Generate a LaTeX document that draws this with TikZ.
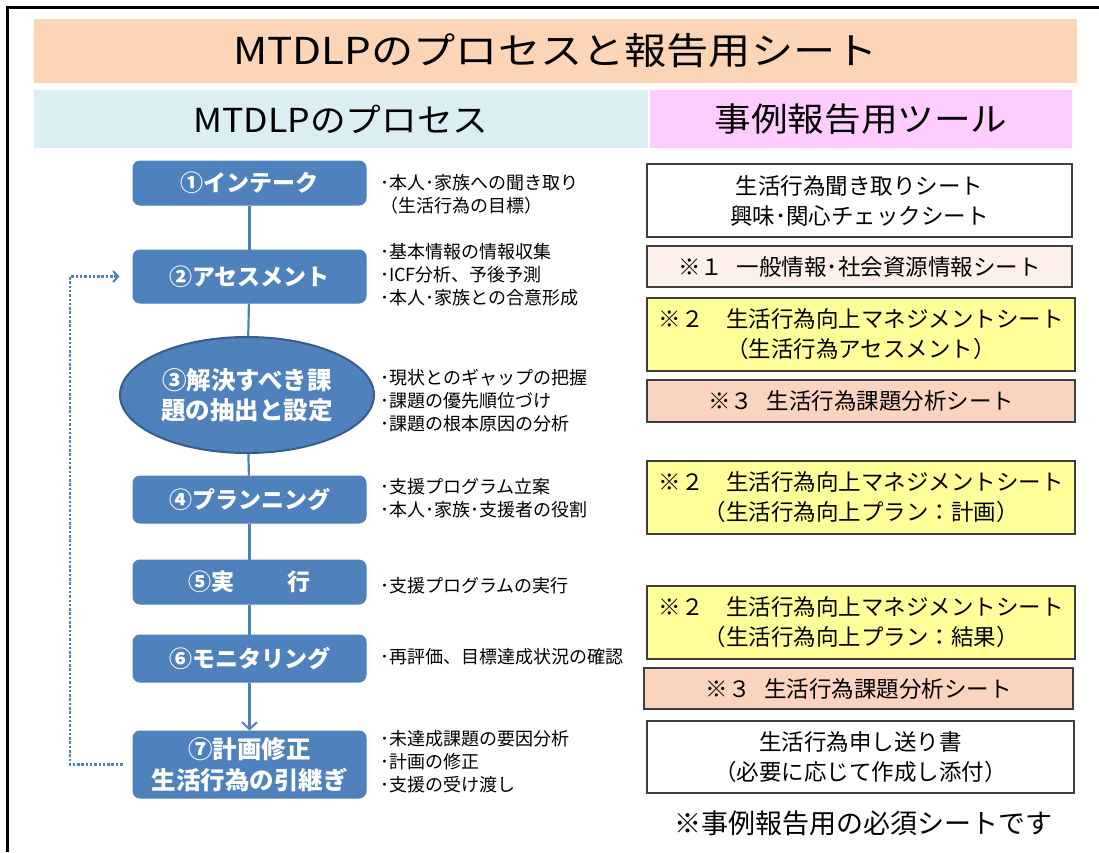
\documentclass[tikz,border=0pt]{standalone}
\usepackage{fontspec}
\setmainfont{Noto Sans CJK JP}
\usetikzlibrary{arrows.meta,shapes.geometric}
\definecolor{titlepeach}{HTML}{FBD5B5}
\definecolor{hdrblue}{HTML}{DAEEF3}
\definecolor{hdrpink}{HTML}{FFCCFF}
\definecolor{procblue}{HTML}{4F81BD}
\definecolor{ellborder}{HTML}{385D8A}
\definecolor{sheetborder}{HTML}{3F3F3F}
\definecolor{lightpeach}{HTML}{FDF0EA}
\definecolor{sheetyellow}{HTML}{FFFF99}
\definecolor{salmon}{HTML}{FBD4BF}
\tikzset{
  procbox/.style={rectangle, rounded corners=7pt, fill=procblue, draw=procblue, line width=1pt,
    minimum width=233pt, text=white, font=\fontsize{23}{30}\selectfont\bfseries, align=center, inner sep=0pt},
  procell/.style={ellipse, fill=procblue, draw=ellborder, line width=2pt, minimum width=254pt,
    minimum height=116pt, text=white, font=\fontsize{24.5}{30}\selectfont\bfseries, align=center, inner sep=0pt},
  note/.style={anchor=west, align=left, font=\fontsize{18}{23}\selectfont, inner sep=0pt},
  sheet/.style={rectangle, draw=sheetborder, line width=1.5pt, minimum width=425pt, align=center,
    font=\fontsize{22.5}{30}\selectfont, inner sep=0pt},
  conn/.style={draw=procblue, line width=2.2pt},
  fb/.style={draw=procblue, line width=2.5pt, dash pattern=on 2.5pt off 1.8pt},
}
\begin{document}
\begin{tikzpicture}[x=1pt,y=-1pt]
\useasboundingbox (0,0) rectangle (1099,852);
\fill[white] (0,0) rectangle (1099,852);
\draw[line width=3pt] (7,852) -- (7,7) -- (1099,7);

% headers
\node[fill=titlepeach, minimum width=1043pt, minimum height=64pt, inner sep=0pt,
  font=\fontsize{37}{40}\selectfont] (title) at (555.5,51) {\scalebox{1.14}[1]{MTDLPのプロセスと報告用シート}};
\node[fill=hdrblue, minimum width=614pt, minimum height=58pt, inner sep=0pt,
  font=\fontsize{33}{36}\selectfont] (hl) at (341,119) {\scalebox{1.08}[1]{MTDLPのプロセス}};
\node[fill=hdrpink, minimum width=422pt, minimum height=58pt, inner sep=0pt,
  font=\fontsize{33}{36}\selectfont] (hr) at (861,119) {\scalebox{1.11}[1]{事例報告用ツール}};

% process
\node[procbox, minimum height=44pt] (n1) at (249.5,183) {①インテーク};
\node[procbox, minimum height=53pt] (n2) at (249.5,276.5) {②アセスメント};
\node[procell] (n3) at (247,395) {③解決すべき課\\題の抽出と設定};
\node[procbox, minimum height=47pt] (n4) at (249.5,499.5) {④プランニング};
\node[procbox, minimum height=44pt] (n5) at (249.5,582) {⑤実\hspace{2.3em}行};
\node[procbox, minimum height=47pt] (n6) at (249.5,658.5) {⑥モニタリング};
\node[procbox, minimum height=67pt, font=\fontsize{24.5}{31}\selectfont\bfseries] (n7) at (249.5,764.5) {⑦計画修正\\生活行為の引継ぎ};

\draw[conn] (n1) -- (n2);
\draw[conn] (n2) -- (n3);
\draw[conn] (n3) -- (n4);
\draw[conn] (n4) -- (n5);
\draw[conn] (n5) -- (n6);
\draw[conn, -{Straight Barb[length=7pt,width=15pt,line width=2pt]}] (n6) -- (n7);

\coordinate (fbbot) at (70,764.5);
\coordinate (fbtop) at (70,276.5);
\draw[fb, shorten <=10pt, shorten >=13pt, -{Straight Barb[length=5pt,width=11pt,line width=2pt]}]
  (n7.west) -- (fbbot) -- (fbtop) -- (n2.west);

% notes
\node[note] (a1) at (380,194) {･本人･家族への聞き取り\\（生活行為の目標）};
\node[note] (a2) at (380,275) {･基本情報の情報収集\\･ICF分析、予後予測\\･本人･家族との合意形成};
\node[note] (a3) at (380,401) {･現状とのギャップの把握\\･課題の優先順位づけ\\･課題の根本原因の分析};
\node[note] (a4) at (380,498.5) {･支援プログラム立案\\･本人･家族･支援者の役割};
\node[note] (a5) at (380,586) {･支援プログラムの実行};
\node[note] (a6) at (380,657) {･再評価、目標達成状況の確認};
\node[note] (a7) at (380,762) {･未達成課題の要因分析\\･計画の修正\\･支援の受け渡し};

% sheets
\node[sheet, fill=white, minimum height=73pt] (sA) at (859.5,200.5) {生活行為聞き取りシート\\興味･関心チェックシート};
\node[sheet, fill=lightpeach, minimum height=41pt] (sB) at (859.5,266.5) {※１\hspace{0.6em}一般情報･社会資源情報シート};
\node[sheet, fill=sheetyellow, minimum width=428pt, minimum height=73pt] (sC) at (861,334.5) {※２\hspace{1em}生活行為向上マネジメントシート\\（生活行為アセスメント）};
\node[sheet, fill=salmon, minimum width=428pt, minimum height=42pt] (sD) at (861,401) {※３\hspace{0.6em}生活行為課題分析シート};
\node[sheet, fill=sheetyellow, minimum width=428pt, minimum height=73pt] (sE) at (861,497.5) {※２\hspace{1em}生活行為向上マネジメントシート\\（生活行為向上プラン：計画）};
\node[sheet, fill=sheetyellow, minimum width=428pt, minimum height=73pt] (sF) at (861,622.5) {※２\hspace{1em}生活行為向上マネジメントシート\\（生活行為向上プラン：結果）};
\node[sheet, fill=salmon, minimum width=429pt, minimum height=41pt] (sG) at (858.5,688.5) {※３\hspace{0.6em}生活行為課題分析シート};
\node[sheet, fill=white, minimum width=427pt, minimum height=72pt] (sH) at (860.5,757) {生活行為申し送り書\\（必要に応じて作成し添付）};
\node[inner sep=0pt, font=\fontsize{27}{30}\selectfont] (foot) at (863,823) {※事例報告用の必須シートです};
\end{tikzpicture}
\end{document}
